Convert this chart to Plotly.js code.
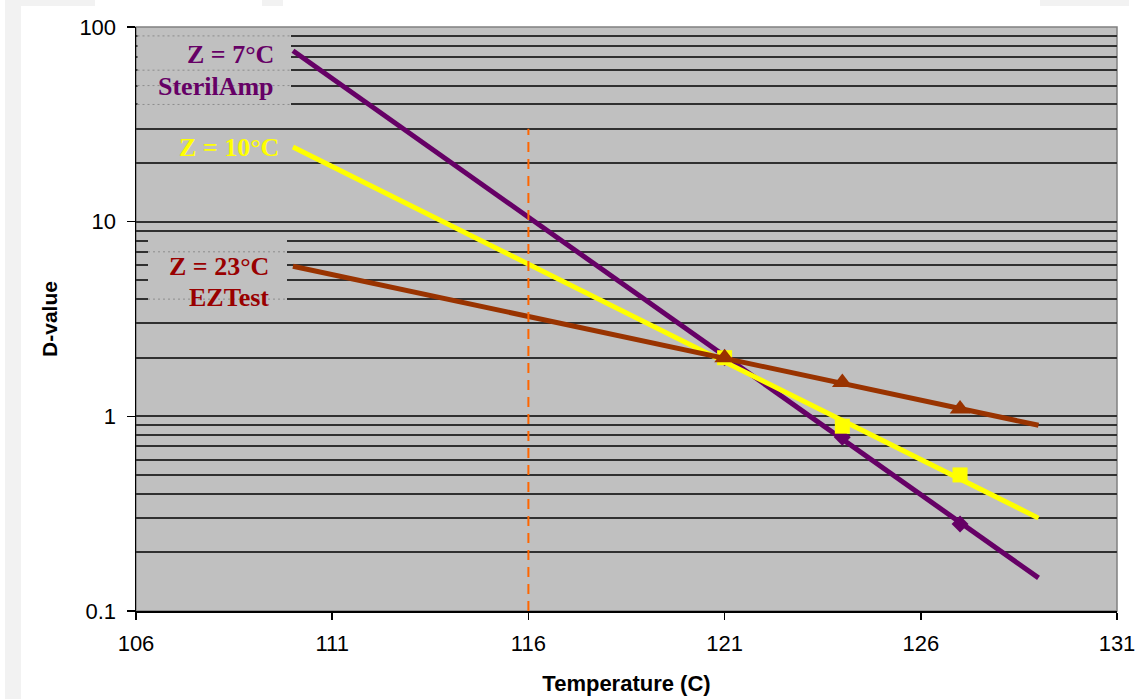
<!DOCTYPE html>
<html>
<head>
<meta charset="utf-8">
<script src="https://cdn.plot.ly/plotly-3.0.1.min.js"></script>
<style>html,body{margin:0;padding:0;background:#fff;}#chart{width:1142px;height:699px;}</style>
</head>
<body>
<div id="chart"></div>
<script>
// ---- data ----
var lineTemps = [110, 129];
var sterilAmpLine = [75.5, 0.148];   // Z = 7°C
var z10Line = [24.2, 0.30];          // Z = 10°C
var ezTestLine = [5.9, 0.90];        // Z = 23°C

var pointTemps = [121, 124, 127];
var sterilAmpPts = [2, 0.78, 0.28];
var z10Pts = [2, 0.89, 0.50];
var ezTestPts = [2, 1.49, 1.09];

var refTemp = 116;
var refRange = [0.1, 30];

var xTicks = [106, 111, 116, 121, 126, 131];
var yTicks = [0.1, 1, 10, 100];
var yTickText = ['0.1', '1', '10', '100'];
var gridMultiples = [2, 3, 4, 5, 6, 7, 8, 9];
var gridDecades = [0.1, 1, 10];

// gridlines shown dotted behind the label boxes
var sterilDotted = [90, 60, 50, 40];
var ezDotted = [7, 4];

var purple = '#660066', yellow = '#ffff00', brown = '#993300', darkRed = '#990000';

var minorVals = [];
gridDecades.forEach(function (d) { gridMultiples.forEach(function (m) { minorVals.push(+(d * m).toPrecision(3)); }); });

var traces = [
  {x: lineTemps, y: sterilAmpLine, mode: 'lines', line: {color: purple, width: 5}},
  {x: pointTemps, y: sterilAmpPts, mode: 'markers', marker: {color: purple, symbol: 'diamond', size: 13}},
  {x: lineTemps, y: z10Line, mode: 'lines', line: {color: yellow, width: 5}},
  {x: pointTemps, y: z10Pts, mode: 'markers', marker: {color: yellow, symbol: 'square', size: 15}},
  {x: lineTemps, y: ezTestLine, mode: 'lines', line: {color: brown, width: 5}},
  {x: pointTemps, y: ezTestPts, mode: 'markers', marker: {color: brown, symbol: 'triangle-up', size: 18}},
  {x: [refTemp, refTemp], y: refRange, mode: 'lines', line: {color: '#ff6600', width: 2, dash: '10px,7px'}}
];

// page geometry helpers (plot area 136..1117 x 27..611 px)
var L = 136, R = 1117, T = 27, B = 611;
function px(xp) { return (xp - L) / (R - L); }
function py(yp) { return (B - yp) / (B - T); }

var lblFont = function (c) { return {family: '"Liberation Serif", "Times New Roman", serif', size: 26, color: c}; };
function label(text, xr, yc, c) {
  return {xref: 'paper', yref: 'paper', x: px(xr), y: py(yc), xanchor: 'right', yanchor: 'middle',
          text: '<b>' + text + '</b>', font: lblFont(c), showarrow: false};
}

var shapes = [
  {type: 'rect', xref: 'paper', yref: 'paper', x0: 0, x1: 1, y0: 0, y1: 1, line: {color: '#808080', width: 1.5}, layer: 'below'},
  {type: 'rect', xref: 'paper', yref: 'paper', x0: px(5), x1: px(21), y0: py(699), y1: py(0), fillcolor: '#f2f2f2', line: {width: 0}, layer: 'below'},
  {type: 'rect', xref: 'paper', yref: 'paper', x0: px(5), x1: px(95), y0: py(6), y1: py(0), fillcolor: '#f2f2f2', line: {width: 0}, layer: 'below'},
  {type: 'rect', xref: 'paper', yref: 'paper', x0: px(262), x1: px(283), y0: py(6), y1: py(0), fillcolor: '#f2f2f2', line: {width: 0}, layer: 'below'},
  {type: 'rect', xref: 'paper', yref: 'paper', x0: px(1040), x1: px(1129), y0: py(6), y1: py(0), fillcolor: '#f2f2f2', line: {width: 0}, layer: 'below'},
  // label boxes covering the gridlines
  {type: 'rect', xref: 'paper', yref: 'paper', x0: px(137.5), x1: px(291), y0: py(108), y1: py(32), fillcolor: '#c0c0c0', line: {width: 0}, layer: 'above'},
  {type: 'rect', xref: 'paper', yref: 'paper', x0: px(148), x1: px(287), y0: py(302), y1: py(236), fillcolor: '#c0c0c0', line: {width: 0}, layer: 'above'}
];
sterilDotted.forEach(function (v) {
  shapes.push({type: 'line', xref: 'paper', yref: 'y', x0: px(137.5), x1: px(291), y0: v, y1: v, line: {color: '#8c8c8c', width: 1, dash: '2px,3px'}, layer: 'above'});
});
ezDotted.forEach(function (v) {
  shapes.push({type: 'line', xref: 'paper', yref: 'y', x0: px(148), x1: px(287), y0: v, y1: v, line: {color: '#8c8c8c', width: 1, dash: '2px,3px'}, layer: 'above'});
});

var layout = {
  width: 1142, height: 699,
  margin: {l: L, r: 1142 - R, t: T, b: 699 - B},
  paper_bgcolor: '#ffffff',
  plot_bgcolor: '#c0c0c0',
  showlegend: false,
  font: {family: 'Arial, "Liberation Sans", sans-serif', color: '#000'},
  xaxis: {
    range: [106, 131], tickvals: xTicks, ticks: 'outside', ticklen: 7, tickwidth: 1.5, tickcolor: '#000',
    showline: true, linecolor: '#000', linewidth: 1.5, showgrid: false, zeroline: false,
    tickfont: {size: 22, color: '#000'}, ticklabelstandoff: 5,
    title: {text: '<b>Temperature (C)</b>', font: {size: 22, color: '#000'}, standoff: 20}
  },
  yaxis: {
    type: 'log', range: [-1, 2], tickvals: yTicks, ticktext: yTickText, ticks: 'outside', ticklen: 8, tickwidth: 1.5, tickcolor: '#000',
    showline: true, linecolor: '#000', linewidth: 1.5,
    showgrid: true, gridcolor: '#303030', gridwidth: 2, zeroline: false,
    minor: {tickvals: minorVals, showgrid: true, gridcolor: '#303030', gridwidth: 2, ticks: ''},
    tickfont: {size: 22, color: '#000'}, ticklabelstandoff: 6,
    title: {text: '<b>D-value</b>', font: {size: 21, color: '#000'}, standoff: 16}
  },
  shapes: shapes,
  annotations: [
    label('Z = 7°C', 276, 55, purple),
    label('SterilAmp', 276, 87, purple),
    label('Z = 10°C', 281, 147, yellow),
    label('Z = 23°C', 271, 266, darkRed),
    label('EZTest', 271, 297, darkRed)
  ]
};

Plotly.newPlot('chart', traces, layout, {displayModeBar: false, staticPlot: true});
</script>
</body>
</html>
